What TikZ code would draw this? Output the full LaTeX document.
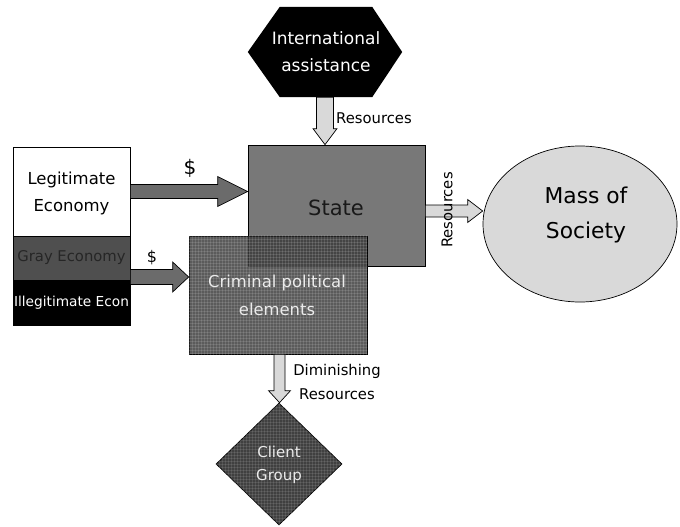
\documentclass[tikz,border=0pt]{standalone}
\usepackage{fontspec}
\setmainfont{DejaVu Sans}
\usetikzlibrary{patterns,calc,shapes.geometric}
\newcommand{\fsz}[2]{\fontsize{#1}{#2}\selectfont}
% horizontal block arrow (rightwards): style, from, to, shaft half, head half, head length
\newcommand{\harrow}[6]{%
  \draw[#1] let \p1=(#2), \p2=(#3) in
    (\x1,\y1+#4pt) -- (\x2-#6pt,\y1+#4pt) -- (\x2-#6pt,\y1+#5pt) -- (\x2,\y1)
    -- (\x2-#6pt,\y1-#5pt) -- (\x2-#6pt,\y1-#4pt) -- (\x1,\y1-#4pt) -- cycle;}
% vertical block arrow (downwards)
\newcommand{\varrow}[6]{%
  \draw[#1] let \p1=(#2), \p2=(#3) in
    (\x1-#4pt,\y1) -- (\x1-#4pt,\y2+#6pt) -- (\x1-#5pt,\y2+#6pt) -- (\x1,\y2)
    -- (\x1+#5pt,\y2+#6pt) -- (\x1+#4pt,\y2+#6pt) -- (\x1+#4pt,\y1) -- cycle;}
\definecolor{stategray}{gray}{0.47}
\definecolor{crimgray}{gray}{0.23}
\definecolor{lightg}{gray}{0.85}
\definecolor{darkarrow}{gray}{0.42}
\definecolor{grayeco}{gray}{0.31}
\begin{document}
\begin{tikzpicture}[x=1pt,y=-1pt,
  box/.style={draw=black,line width=0.7pt,inner sep=0pt},
  lbl/.style={inner sep=0pt,align=center},
  darrow/.style={draw=black,line width=0.7pt,fill=darkarrow},
  larrow/.style={draw=black,line width=0.7pt,fill=lightg}]
\useasboundingbox (0,0) rectangle (680,527);

% International assistance (hexagon)
\node[inner sep=0pt,minimum width=154pt,minimum height=90pt] (hex) at (325,52) {};
\fill[black] (hex.west) -- ($(hex.north west)+(32,0)$) -- ($(hex.north east)+(-30,0)$)
  -- (hex.east) -- ($(hex.south east)+(-30,0)$) -- ($(hex.south west)+(32,0)$) -- cycle;
\node[lbl,text=white,font=\fsz{17}{27}] (hext) at (326,52) {International\\assistance};

% State
\node[box,fill=stategray,minimum width=177pt,minimum height=121pt] (state) at (336.5,205.5) {};
\node[lbl,font=\fsz{21}{25},text=black!90] (statet) at (336,208) {State};

% Criminal political elements (semi-transparent)
\node[box,fill=crimgray,fill opacity=0.84,minimum width=178pt,minimum height=118pt] (criminal) at (278,295) {};
\fill[pattern=grid,pattern color=white,opacity=0.12] (criminal.south west) rectangle (criminal.north east);
\node[lbl,text=white!92!black,font=\fsz{16.4}{28}] (crimt) at (277,295) {Criminal political\\elements};

% Economies
\node[box,fill=white,minimum width=117pt,minimum height=89pt] (legit) at (71.5,191.5) {};
\node[lbl,font=\fsz{16.5}{27}] (legitt) at (71.5,193) {Legitimate\\Economy};
\node[box,fill=grayeco,minimum width=117pt,minimum height=44pt,font=\fsz{14.8}{18},text=black!85] (gray) at (71.5,258) {Gray Economy};
\node[box,fill=black,minimum width=117pt,minimum height=45pt,font=\fsz{13.7}{16},text=white] (illeg) at (71.5,302.5) {Illegitimate Econ};

% Mass of Society
\node[ellipse,draw=black,line width=0.7pt,fill=lightg,minimum width=194pt,minimum height=156pt,inner sep=0pt] (mass) at (580,224) {};
\node[lbl,font=\fsz{21.8}{35}] (masst) at (586,215) {Mass of\\Society};

% Client Group
\node[diamond,draw=black,line width=0.7pt,fill=black!75,minimum width=126pt,minimum height=122pt,inner sep=0pt] (client) at (279,464) {};
\fill[pattern=grid,pattern color=white,opacity=0.10] (client.north) -- (client.east) -- (client.south) -- (client.west) -- cycle;
\node[lbl,text=white!92!black,font=\fsz{15}{23}] (clientt) at (279,465) {Client\\Group};

% helper coordinates
\coordinate (r2) at (0,277);
\coordinate (r3) at (0,211);
\coordinate (c2) at (279.5,0);

% arrows
\harrow{darrow}{legit.east}{state.west |- legit.east}{7}{15}{30}
\harrow{darrow}{gray.east |- r2}{criminal.west |- r2}{7.5}{15}{16}
\varrow{larrow}{hex.south}{state.north -| hex.south}{8.5}{12}{16}
\harrow{larrow}{state.east |- r3}{mass.west |- r3}{6}{11.5}{15}
\varrow{larrow}{criminal.south -| c2}{client.north -| c2}{5.5}{11}{12}

% arrow labels
\node[lbl,font=\fsz{20}{24}] (d1) at (190,168) {\$};
\node[lbl,font=\fsz{16}{20}] (d2) at (152,258) {\$};
\node[lbl,font=\fsz{14.8}{18},anchor=west] (res1) at (336,118) {Resources};
\node[lbl,font=\fsz{14.8}{18},rotate=90] (res2) at (447,210) {Resources};
\node[lbl,font=\fsz{14.8}{24}] (dimin) at (337,382) {Diminishing\\Resources};
\end{tikzpicture}
\end{document}
